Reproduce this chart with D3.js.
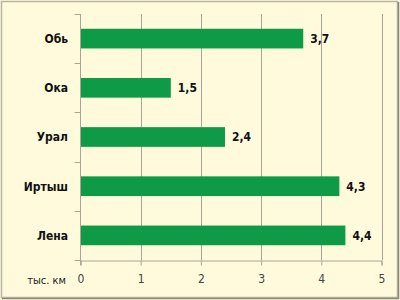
<!DOCTYPE html>
<html>
<head>
<meta charset="utf-8">
<script src="https://cdn.jsdelivr.net/npm/d3@7"></script>
<style>
body { margin: 0; background: #fff; }
svg { display: block; }
</style>
</head>
<body>
<svg id="chart" width="400" height="300"></svg>
<script>
// rivers and lengths (thousand km)
var rivers = ["Обь", "Ока", "Урал", "Иртыш", "Лена"];
var lengths = [3.7, 1.5, 2.4, 4.3, 4.4];
var xTicks = [0, 1, 2, 3, 4, 5];
var unitLabel = "тыс. км";

var svg = d3.select("#chart");
var font = "'Liberation Sans Narrow', 'DejaVu Sans Condensed', Arial, sans-serif";

// background + frame
svg.append("rect")
	.attr("x", 0).attr("y", 0)
	.attr("width", 400).attr("height", 300)
	.style("fill", "#fffadc");
svg.append("rect")
	.attr("x", 1.5).attr("y", 1.5)
	.attr("width", 396).attr("height", 296)
	.style("fill", "none")
	.style("stroke", "#b8b6a0")
	.style("stroke-width", 1.5);
svg.append("path")
	.attr("d", "M398.5,2V298.5H2")
	.style("fill", "none")
	.style("stroke", "#8c8a7c")
	.style("stroke-width", 1.5);

var plotLeft = 80.5, plotRight = 381.5, plotTop = 14, plotBottom = 260;

var x = d3.scaleLinear().domain([0, 5]).range([plotLeft, plotRight]);
var y = d3.scaleBand().domain(rivers).range([plotTop, plotBottom])
	.paddingInner(0.6).paddingOuter(0.3);

// vertical gridlines
svg.append("g").selectAll("line")
	.data(xTicks.slice(1))
	.enter().append("line")
	.attr("x1", function(d){ return Math.round(x(d)) + 0.5; })
	.attr("x2", function(d){ return Math.round(x(d)) + 0.5; })
	.attr("y1", plotTop).attr("y2", plotBottom)
	.style("stroke", "#a8a696")
	.style("stroke-width", 1);

// bars
svg.append("g").selectAll("rect")
	.data(rivers)
	.enter().append("rect")
	.attr("x", x(0))
	.attr("y", function(d){ return y(d); })
	.attr("width", function(d, i){ return x(lengths[i]) - x(0); })
	.attr("height", y.bandwidth())
	.style("fill", "#0f9a47");

// value labels
svg.append("g").selectAll("text")
	.data(rivers)
	.enter().append("text")
	.attr("x", function(d, i){ return x(lengths[i]) + 7; })
	.attr("y", function(d){ return y(d) + y.bandwidth() / 2; })
	.attr("dy", "0.36em")
	.style("font-family", font)
	.style("font-size", "12px")
	.style("font-weight", "bold")
	.style("fill", "#111")
	.text(function(d, i){ return String(lengths[i]).replace(".", ","); });

// bottom axis
var xAxis = svg.append("g")
	.attr("transform", "translate(0," + (plotBottom + 0.5) + ")")
	.call(d3.axisBottom(x).tickValues(xTicks).tickSize(5).tickPadding(9)
		.tickFormat(function(d){ return d; }));
xAxis.select(".domain").style("stroke", "#a8a696");
xAxis.selectAll(".tick line").style("stroke", "#a8a696");
xAxis.selectAll("text")
	.style("font-family", font)
	.style("font-size", "12px")
	.style("fill", "#444");

// left axis: line and ticks at band boundaries
var step = y.step();
var bounds = d3.range(rivers.length + 1).map(function(i){ return plotTop + i * step; });
svg.append("line")
	.attr("x1", plotLeft).attr("x2", plotLeft)
	.attr("y1", plotTop).attr("y2", plotBottom + 5)
	.style("stroke", "#a8a696");
svg.append("g").selectAll("line")
	.data(bounds)
	.enter().append("line")
	.attr("x1", plotLeft - 6).attr("x2", plotLeft)
	.attr("y1", function(d){ return Math.round(d) + 0.5; })
	.attr("y2", function(d){ return Math.round(d) + 0.5; })
	.style("stroke", "#a8a696");

// category labels
svg.append("g").selectAll("text")
	.data(rivers)
	.enter().append("text")
	.attr("x", 68)
	.attr("y", function(d){ return y(d) + y.bandwidth() / 2; })
	.attr("dy", "0.36em")
	.attr("text-anchor", "end")
	.style("font-family", font)
	.style("font-size", "12px")
	.style("font-weight", "bold")
	.style("fill", "#111")
	.text(function(d){ return d; });

// unit label
svg.append("text")
	.attr("x", 66).attr("y", 280)
	.attr("dy", "0.36em")
	.attr("text-anchor", "end")
	.style("font-family", font)
	.style("font-size", "11px")
	.style("fill", "#222")
	.text(unitLabel);
</script>
</body>
</html>
